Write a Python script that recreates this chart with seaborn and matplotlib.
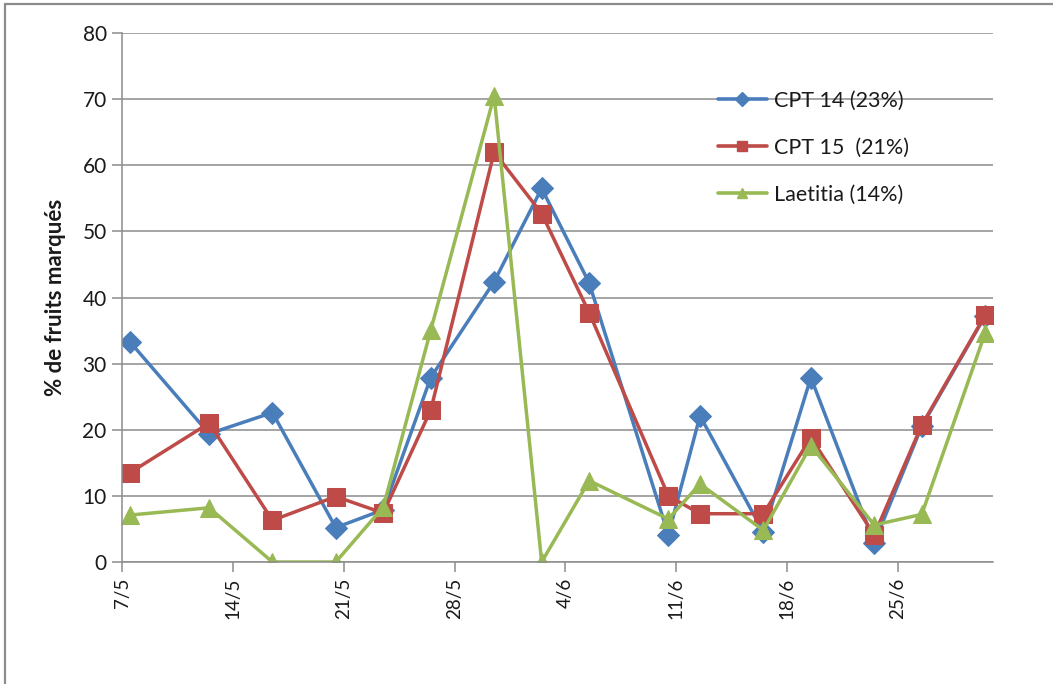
import matplotlib
matplotlib.use("Agg")
import matplotlib.pyplot as plt
from matplotlib.lines import Line2D
import pandas as pd
import seaborn as sns

# Sampling dates (day/month)
dates = ["7/5", "12/5", "16/5", "20/5", "23/5", "26/5", "30/5", "2/6",
         "5/6", "10/6", "12/6", "16/6", "19/6", "23/6", "26/6", "30/6"]

# Percentage of marked fruits per plot
cpt14 = [33.3, 19.4, 22.6, 5.2, 7.9, 27.9, 42.4, 56.5,
         42.2, 4.1, 22.1, 4.5, 27.9, 2.9, 20.5, 37.2]
cpt15 = [13.5, 21.0, 6.3, 9.9, 7.4, 23.0, 62.0, 52.7,
         37.7, 10.0, 7.3, 7.3, 18.8, 4.1, 20.7, 37.3]
laetitia = [7.1, 8.2, 0.0, 0.0, 8.3, 35.1, 70.5, 0.0,
            12.3, 6.5, 11.8, 4.8, 17.6, 5.6, 7.2, 34.6]

series_names = ["CPT 14 (23%)", "CPT 15  (21%)", "Laetitia (14%)"]
series_values = [cpt14, cpt15, laetitia]

yticks = [0, 10, 20, 30, 40, 50, 60, 70, 80]
xtick_dates = ["7/5", "14/5", "21/5", "28/5", "4/6", "11/6", "18/6", "25/6"]
YEAR = 2012


def to_date(s):
    d, m = s.split("/")
    return pd.Timestamp(year=YEAR, month=int(m), day=int(d))


# Points sit in the middle of their day, as on a date axis
when = [to_date(s) + pd.Timedelta(hours=12) for s in dates]
df = pd.concat(
    [pd.DataFrame({"date": when, "pct": v, "serie": n})
     for n, v in zip(series_names, series_values)],
    ignore_index=True,
)

sns.set_theme(style="white")
plt.rcParams["font.family"] = ["Lato", "DejaVu Sans"]

colors = ["#4A7EBB", "#BE4B48", "#98B954"]
markers = ["D", "s", "^"]
msizes = [11, 12.5, 13]

fig = plt.figure(figsize=(10.53, 6.84), dpi=100)
ax = fig.add_axes([122 / 1053, 1 - 562 / 684, (993 - 122) / 1053, (562 - 33) / 684])

for name, col, mk, ms in zip(series_names, colors, markers, msizes):
    sns.lineplot(data=df[df["serie"] == name], x="date", y="pct", ax=ax,
                 color=col, marker=mk, markersize=ms, markeredgecolor=col,
                 linewidth=2.5, legend=False, estimator=None, sort=False)

ax.set_ylim(0, 80)
ax.set_yticks(yticks)
ax.set_xlim(to_date("7/5"), to_date("7/5") + pd.Timedelta(days=55))
ax.set_xticks([to_date(s) for s in xtick_dates])
ax.set_xticklabels(xtick_dates, rotation=90)

grid_col = "#8C8C8C"
ax.yaxis.grid(True, color=grid_col, linewidth=1.1)
ax.xaxis.grid(False)
ax.set_axisbelow(True)
for side in ["top", "right"]:
    ax.spines[side].set_visible(False)
for side in ["left", "bottom"]:
    ax.spines[side].set_color(grid_col)
    ax.spines[side].set_linewidth(1.1)

ax.tick_params(axis="both", which="major", direction="out", length=7,
               width=1.1, color=grid_col, labelcolor="#1a1a1a",
               pad=4, left=True, bottom=True)
ax.tick_params(axis="y", labelsize=15)
ax.tick_params(axis="x", labelsize=13.5)

ax.set_xlabel("")
ax.set_ylabel("% de fruits marqués", fontsize=16, fontweight="bold",
              color="#1a1a1a", labelpad=12)

handles = [Line2D([0], [0], color=c, marker=m, markersize=7.5, linewidth=2.6)
           for c, m in zip(colors, markers)]
ax.legend(handles, series_names, loc="upper left",
          bbox_to_anchor=((709 - 122) / (993 - 122), (562 - 82) / (562 - 33)),
          frameon=False, fontsize=15.5, labelspacing=1.25, handlelength=2.3,
          handletextpad=0.3, borderaxespad=0, labelcolor="#1a1a1a")

# Chart area border
fig.add_artist(Line2D([5 / 1053, 5 / 1053], [0, 1 - 4 / 684],
                      transform=fig.transFigure, color="#8C8C8C", linewidth=1.6))
fig.add_artist(Line2D([5 / 1053, 1], [1 - 4 / 684, 1 - 4 / 684],
                      transform=fig.transFigure, color="#8C8C8C", linewidth=1.6))

fig.savefig("out.png", dpi=100, facecolor="white")
